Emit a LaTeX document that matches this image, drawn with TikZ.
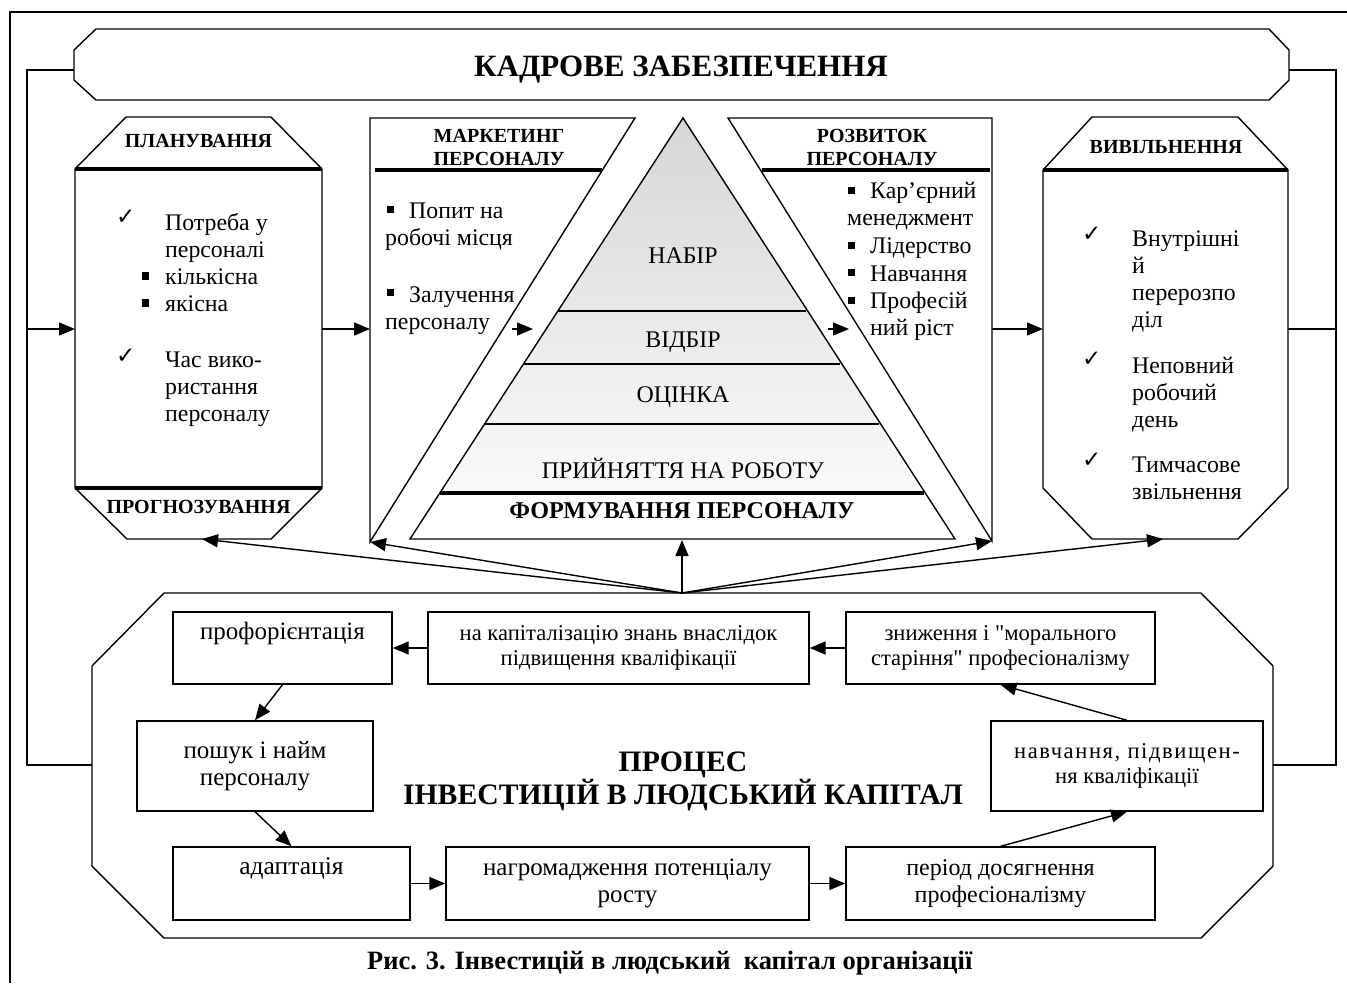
\documentclass[tikz,border=0pt]{standalone}
\usepackage{fontspec}
\setmainfont{Liberation Serif}[Ligatures=TeXOff]
\newfontfamily\symf{DejaVu Sans}
\usetikzlibrary{arrows.meta}
\begin{document}
\begin{tikzpicture}[x=1pt,y=-1pt,
 ln/.style={line width=1.4pt, line join=miter},
 thk/.style={line width=3.2pt},
 arr/.style={line width=1.4pt, -{Triangle[length=16pt,width=13pt]}},
 lt/.style={font=\fontsize{23.8}{27}\selectfont, inner sep=0pt, anchor=base west},
 pt/.style={font=\fontsize{23.9}{27}\selectfont, inner sep=0pt, anchor=base},
 hdr/.style={font=\fontsize{20}{23}\selectfont\bfseries, inner sep=0pt, anchor=base},
 big/.style={font=\fontsize{29.7}{33}\selectfont\bfseries, inner sep=0pt, anchor=base},
 chk/.style={font=\fontsize{23}{23}\selectfont\symf, inner sep=0pt, anchor=base west},
 pbox/.style={draw, line width=1.4pt, inner sep=0pt, align=center},
 fA/.style={font=\fontsize{25}{27}\selectfont},
 fB/.style={font=\fontsize{22.6}{25.5}\selectfont},
]
\useasboundingbox (0,0) rectangle (1347,983);
\fill[white] (0,0) rectangle (1347,983);

% page frame
\draw[ln] (10,983)--(10,12)--(1347,12);

% banner
\draw[ln] (96,29)--(1269,29)--(1289,50)--(1289,80)--(1269,100)--(96,100)--(74,80)--(74,50)--cycle;
\node[big, font=\fontsize{31}{33}\selectfont\bfseries] (kadr) at (681,76) {КАДРОВЕ ЗАБЕЗПЕЧЕННЯ};
\coordinate (bnL) at (74,70);
\coordinate (bnR) at (1289,70);

% planning
\draw[ln] (126,117)--(271,117)--(322,169)--(322,488)--(271,539)--(127,539)--(75,488)--(75,169)--cycle;
\draw[thk] (75,169)--(322,169);
\draw[thk] (75,488)--(322,488);
\coordinate (planL) at (75,329);
\coordinate (planR) at (322,329);
\coordinate (planB) at (202,539);
\node[hdr] (planH) at (198.5,147) {ПЛАНУВАННЯ};
\node[hdr] (progH) at (198.5,513) {ПРОГНОЗУВАННЯ};
\node[chk] (pc1) at (116,224) {✓};
\node[lt] (p1) at (165,230) {Потреба у};
\node[lt] (p2) at (165,257) {персоналі};
\fill (142,272) rectangle (149,280);
\node[lt] (p3) at (165,284) {кількісна};
\fill (142,299) rectangle (149,307);
\node[lt] (p4) at (165,311) {якісна};
\node[chk] (pc2) at (116,363) {✓};
\node[lt] (p5) at (165,367) {Час вико-};
\node[lt] (p6) at (165,394) {ристання};
\node[lt] (p7) at (165,421) {персоналу};

% marketing
\draw[ln] (370,118)--(635,118)--(370,542)--cycle;
\draw[thk] (375,170)--(602,170);
\coordinate (markL) at (370,329);
\coordinate (markB) at (370,542);
\node[hdr] (markH1) at (499,142) {МАРКЕТИНГ};
\node[hdr] (markH2) at (499,165) {ПЕРСОНАЛУ};
\fill (387,206) rectangle (394,213);
\node[lt] (m1) at (409,218) {Попит на};
\node[lt] (m2) at (385,245) {робочі місця};
\fill (387,289) rectangle (394,296);
\node[lt] (m3) at (409,302) {Залучення};
\node[lt] (m4) at (385,329) {персоналу};

% pyramid
\shade[top color=gray!32, bottom color=gray!4] (683,118)--(439.8,493)--(926.2,493)--cycle;
\draw[ln] (683,118)--(955,539)--(410,539)--cycle;
\draw[line width=1.2pt] (557.8,311)--(806,311);
\draw[line width=1.2pt] (523.5,364)--(840,364);
\draw[line width=1.2pt] (484.6,424)--(879,424);
\draw[thk] (439.8,493)--(924,493);
\coordinate (pyrB) at (682,540);
\node[pt] (nabir) at (683,263) {НАБІР};
\node[pt] (vidbir) at (683,347) {ВІДБІР};
\node[pt] (ocinka) at (683,402) {ОЦІНКА};
\node[pt] (pryin) at (683,478) {ПРИЙНЯТТЯ НА РОБОТУ};
\node[pt, font=\fontsize{24.1}{27}\selectfont\bfseries] (form) at (682,518) {ФОРМУВАННЯ ПЕРСОНАЛУ};
\coordinate (pyrLa) at (512,329);
\coordinate (pyrLb) at (533,329);
\coordinate (pyrRa) at (828,329);
\coordinate (pyrRb) at (849,329);

% development
\draw[ln] (728,118)--(992,118)--(992,541)--cycle;
\draw[thk] (762,170)--(990,170);
\coordinate (rozvR) at (992,329);
\coordinate (rozvB) at (992,541);
\node[hdr] (rozvH1) at (872,142) {РОЗВИТОК};
\node[hdr] (rozvH2) at (872,165) {ПЕРСОНАЛУ};
\fill (848,187) rectangle (855,194);
\node[lt] (r1) at (870,198) {Кар’єрний};
\node[lt] (r2) at (847,225) {менеджмент};
\fill (848,242) rectangle (855,249);
\node[lt] (r3) at (870,253) {Лідерство};
\fill (848,269) rectangle (855,276);
\node[lt] (r4) at (870,281) {Навчання};
\fill (848,297) rectangle (855,304);
\node[lt] (r5) at (870,308) {Професій};
\node[lt] (r6) at (870,335) {ний ріст};

% release
\draw[ln] (1092,117)--(1238,117)--(1288,170)--(1288,488)--(1238,539)--(1092,539)--(1043,488)--(1043,170)--cycle;
\draw[thk] (1043,170)--(1288,170);
\coordinate (vyvL) at (1043,329);
\coordinate (vyvR) at (1288,329);
\coordinate (vyvB) at (1163,539);
\node[hdr] (vyvH) at (1166,153) {ВИВІЛЬНЕННЯ};
\node[chk] (vc1) at (1082,241) {✓};
\node[lt] (v1) at (1132,246) {Внутрішні};
\node[lt] (v2) at (1132,273) {й};
\node[lt] (v3) at (1132,300) {перерозпо};
\node[lt] (v4) at (1132,327) {діл};
\node[chk] (vc2) at (1082,366) {✓};
\node[lt] (v5) at (1132,373) {Неповний};
\node[lt] (v6) at (1132,400) {робочий};
\node[lt] (v7) at (1132,427) {день};
\node[chk] (vc3) at (1082,467) {✓};
\node[lt] (v8) at (1132,472) {Тимчасове};
\node[lt] (v9) at (1132,499) {звільнення};

% octagon
\draw[ln] (164,593)--(1201,593)--(1273,666)--(1273,866)--(1201,938)--(164,938)--(92,866)--(92,666)--cycle;
\coordinate (octL) at (92,765);
\coordinate (octR) at (1273,765);
\coordinate (fan) at (682,593);
\node[big] (proc1) at (683,771) {ПРОЦЕС};
\node[big] (proc2) at (683,804) {ІНВЕСТИЦІЙ В ЛЮДСЬКИЙ КАПІТАЛ};

% outer connectors
\coordinate (lb) at (27,329);
\coordinate (rb) at (1336,329);
\draw[ln] (bnL)--(27,70)--(27,765)--(octL);
\draw[ln] (bnR)--(1336,70)--(1336,765)--(octR);
\draw[arr] (lb)--(planL);
\draw[ln] (vyvR)--(rb);

% middle arrows
\draw[arr] (planR)--(markL);
\draw[arr] (pyrLa)--(pyrLb);
\draw[arr] (pyrRa)--(pyrRb);
\draw[arr] (rozvR)--(vyvL);

% fan
\draw[arr] (fan)--(planB);
\draw[arr] (fan)--(markB);
\draw[arr] (fan)--(pyrB);
\draw[arr] (fan)--(rozvB);
\draw[arr] (fan)--(vyvB);

% process boxes
\node[pbox, fA, minimum width=219pt, minimum height=72pt] (prof) at (282.5,648) {профорієнтація\\\strut};
\node[pbox, fB, minimum width=381pt, minimum height=72pt] (kap) at (618.5,648) {на капіталізацію знань внаслідок\\підвищення кваліфікації};
\node[pbox, fB, minimum width=309pt, minimum height=72pt] (znyzh) at (1000.5,648) {зниження і "морального\\старіння" професіоналізму};
\node[pbox, fA, minimum width=236pt, minimum height=90pt] (poshuk) at (255,766) {пошук і найм\\персоналу};
\node[pbox, fB, minimum width=272pt, minimum height=90pt] (navch) at (1127,766) {{\addfontfeature{LetterSpace=7}навчання, підвищен-}\\ня кваліфікації};
\node[pbox, fA, font=\fontsize{25.5}{27}\selectfont, minimum width=237pt, minimum height=73pt] (adapt) at (291.5,883.5) {адаптація\\\strut};
\node[pbox, fA, minimum width=363pt, minimum height=73pt] (nagrom) at (627.5,883.5) {нагромадження потенціалу\\росту};
\node[pbox, font=\fontsize{24}{27}\selectfont, minimum width=309pt, minimum height=73pt] (period) at (1000.5,883.5) {період досягнення\\професіоналізму};

\draw[arr] (znyzh)--(kap);
\draw[arr] (kap)--(prof);
\draw[arr] (prof.south)--(poshuk.north);
\draw[arr] (poshuk.south)--(adapt.north);
\draw[arr] (adapt)--(nagrom);
\draw[arr] (nagrom)--(period);
\draw[arr] (period.north)--(navch.south);
\draw[arr] (navch.north)--(znyzh.south);

% caption
\node[font=\fontsize{26.5}{28}\selectfont\bfseries, inner sep=0pt, anchor=base west] (cap) at (367,969) {Рис. 3. Інвестицій в людський~~капітал організації};
\end{tikzpicture}
\end{document}
